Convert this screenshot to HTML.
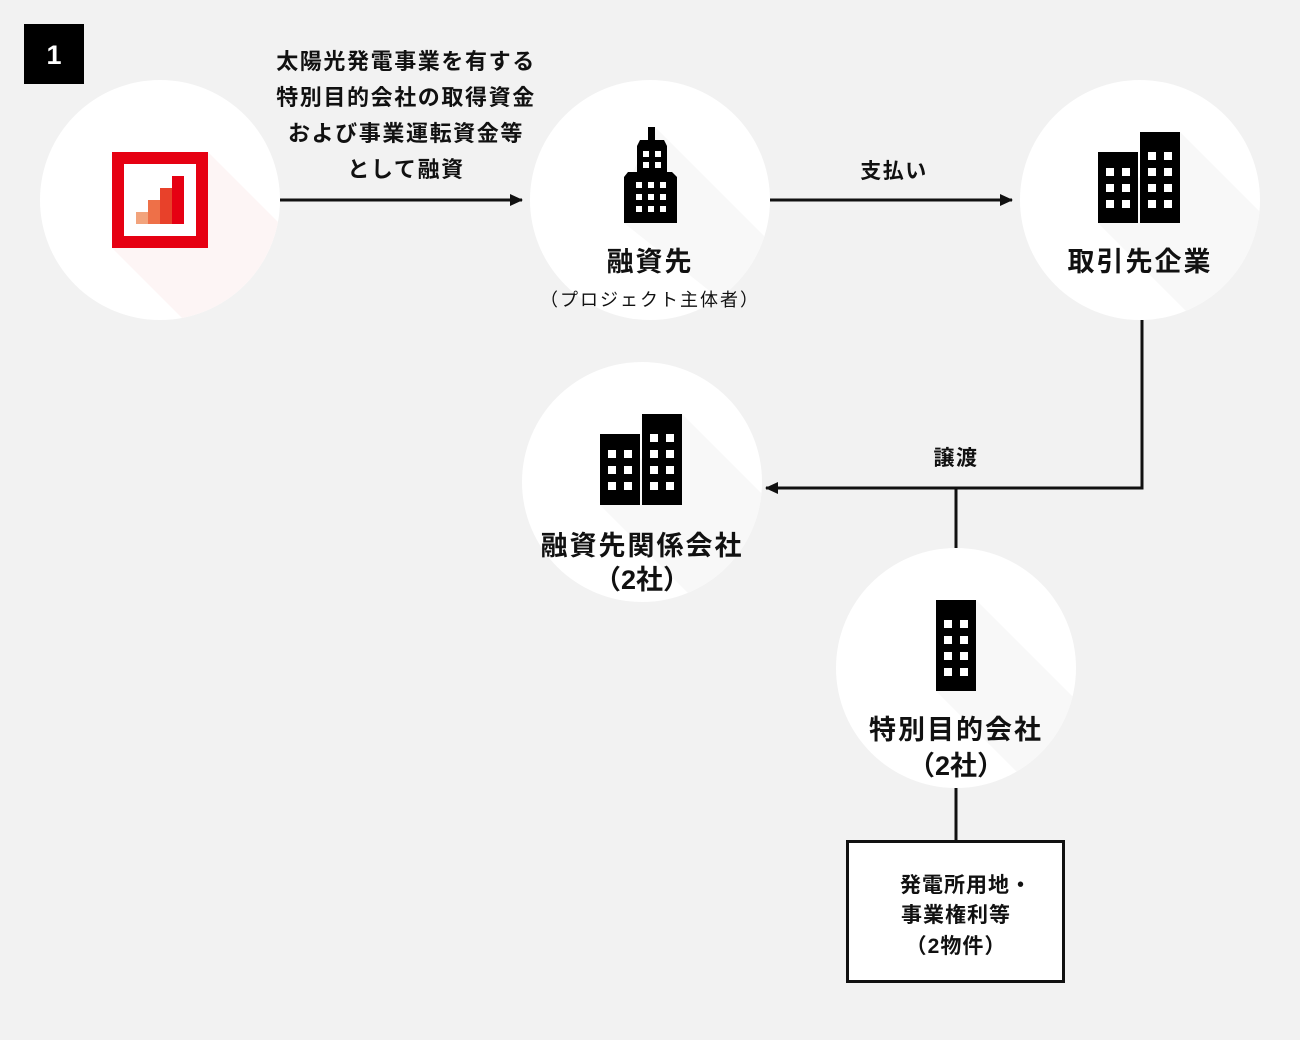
<!DOCTYPE html>
<html><head><meta charset="utf-8"><style>
html,body{margin:0;padding:0;background:#f2f2f2;}
svg{display:block;}
text{font-family:"Liberation Sans","Noto Sans CJK JP",sans-serif;fill:#111;}
</style></head><body>
<svg width="1300" height="1040" viewBox="0 0 1300 1040" xmlns="http://www.w3.org/2000/svg">
<defs>
<clipPath id="c1"><circle cx="160" cy="200" r="120"/></clipPath>
<clipPath id="c2"><circle cx="650" cy="200" r="120"/></clipPath>
<clipPath id="c3"><circle cx="1140" cy="200" r="120"/></clipPath>
<clipPath id="c4"><circle cx="642" cy="482" r="120"/></clipPath>
<clipPath id="c5"><circle cx="956" cy="668" r="120"/></clipPath>
<marker id="ah" markerWidth="13" markerHeight="12" refX="12" refY="6" orient="auto" markerUnits="userSpaceOnUse"><path d="M0,0 L13,6 L0,12 Z" fill="#111"/></marker>
</defs>
<rect x="0" y="0" width="1300" height="1040" fill="#f2f2f2"/>
<rect x="24" y="24" width="60" height="60" fill="#000"/>
<text x="54" y="64" font-size="27" font-weight="bold" text-anchor="middle" style="fill:#fff">1</text>

<circle cx="160" cy="200" r="120" fill="#fff"/>
<polygon clip-path="url(#c1)" points="208,152 408,352 312,448 112,248" fill="#fdf5f5"/>
<circle cx="650" cy="200" r="120" fill="#fff"/>
<polygon clip-path="url(#c2)" points="655,127 876,348 876,423 624,223 624,190" fill="#f8f8f8"/>
<circle cx="1140" cy="200" r="120" fill="#fff"/>
<polygon clip-path="url(#c3)" points="1180,132 1380,332 1298,423 1098,223" fill="#f8f8f8"/>
<circle cx="642" cy="482" r="120" fill="#fff"/>
<polygon clip-path="url(#c4)" points="682,414 882,614 800,705 600,505" fill="#f8f8f8"/>
<circle cx="956" cy="668" r="120" fill="#fff"/>
<polygon clip-path="url(#c5)" points="976,600 1176,800 1136,891 936,691" fill="#f8f8f8"/>

<rect x="112" y="152" width="96" height="96" fill="#e60012"/>
<rect x="124" y="164" width="72" height="72" fill="#fff"/>
<rect x="136" y="212" width="12" height="12" fill="#f2a37c"/>
<rect x="148" y="200" width="12" height="24" fill="#ee7048"/>
<rect x="160" y="188" width="12" height="36" fill="#e8412a"/>
<rect x="172" y="176" width="12" height="48" fill="#e60012"/>

<g fill="#000">
<rect x="648" y="127" width="7" height="14"/>
<path d="M640,140 L664,140 L667,146 L667,172 L637,172 L637,146 Z"/>
<path d="M628,172 L672,172 L677,177 L677,223 L624,223 L624,177 Z"/>
</g>
<g fill="#fff">
<rect x="643" y="151" width="6" height="6"/><rect x="655" y="151" width="6" height="6"/>
<rect x="643" y="162" width="6" height="6"/><rect x="655" y="162" width="6" height="6"/>
<rect x="636" y="182" width="6" height="6"/><rect x="648" y="182" width="6" height="6"/><rect x="660" y="182" width="6" height="6"/>
<rect x="636" y="194" width="6" height="6"/><rect x="648" y="194" width="6" height="6"/><rect x="660" y="194" width="6" height="6"/>
<rect x="636" y="206" width="6" height="6"/><rect x="648" y="206" width="6" height="6"/><rect x="660" y="206" width="6" height="6"/>
</g>

<g transform="translate(1098,132)">
<rect x="0" y="20" width="40" height="71" fill="#000"/><rect x="42" y="0" width="40" height="91" fill="#000"/>
<g fill="#fff">
<rect x="8" y="36" width="8" height="8"/><rect x="24" y="36" width="8" height="8"/>
<rect x="8" y="52" width="8" height="8"/><rect x="24" y="52" width="8" height="8"/>
<rect x="8" y="68" width="8" height="8"/><rect x="24" y="68" width="8" height="8"/>
<rect x="50" y="20" width="8" height="8"/><rect x="66" y="20" width="8" height="8"/>
<rect x="50" y="36" width="8" height="8"/><rect x="66" y="36" width="8" height="8"/>
<rect x="50" y="52" width="8" height="8"/><rect x="66" y="52" width="8" height="8"/>
<rect x="50" y="68" width="8" height="8"/><rect x="66" y="68" width="8" height="8"/>
</g></g>
<g transform="translate(600,414)">
<rect x="0" y="20" width="40" height="71" fill="#000"/><rect x="42" y="0" width="40" height="91" fill="#000"/>
<g fill="#fff">
<rect x="8" y="36" width="8" height="8"/><rect x="24" y="36" width="8" height="8"/>
<rect x="8" y="52" width="8" height="8"/><rect x="24" y="52" width="8" height="8"/>
<rect x="8" y="68" width="8" height="8"/><rect x="24" y="68" width="8" height="8"/>
<rect x="50" y="20" width="8" height="8"/><rect x="66" y="20" width="8" height="8"/>
<rect x="50" y="36" width="8" height="8"/><rect x="66" y="36" width="8" height="8"/>
<rect x="50" y="52" width="8" height="8"/><rect x="66" y="52" width="8" height="8"/>
<rect x="50" y="68" width="8" height="8"/><rect x="66" y="68" width="8" height="8"/>
</g></g>
<g transform="translate(936,600)">
<rect x="0" y="0" width="40" height="91" fill="#000"/>
<g fill="#fff">
<rect x="8" y="20" width="8" height="8"/><rect x="24" y="20" width="8" height="8"/>
<rect x="8" y="36" width="8" height="8"/><rect x="24" y="36" width="8" height="8"/>
<rect x="8" y="52" width="8" height="8"/><rect x="24" y="52" width="8" height="8"/>
<rect x="8" y="68" width="8" height="8"/><rect x="24" y="68" width="8" height="8"/>
</g></g>

<g stroke="#111" stroke-width="3" fill="none">
<line x1="280" y1="200" x2="522" y2="200" marker-end="url(#ah)"/>
<line x1="770" y1="200" x2="1012" y2="200" marker-end="url(#ah)"/>
<polyline points="1142,320 1142,488 766,488" marker-end="url(#ah)"/>
<line x1="956" y1="488" x2="956" y2="548"/>
<line x1="956" y1="788" x2="956" y2="840"/>
</g>
<rect x="847.5" y="841.5" width="216" height="140" fill="#fff" stroke="#111" stroke-width="3"/>

<g font-weight="bold" text-anchor="middle">
<g font-size="22" letter-spacing="1.6">
<text x="406" y="69">太陽光発電事業を有する</text>
<text x="406" y="105">特別目的会社の取得資金</text>
<text x="406" y="141">および事業運転資金等</text>
<text x="406" y="177">として融資</text>
</g>
<text x="894" y="178" font-size="21" letter-spacing="1.5">支払い</text>
<text x="650" y="271" font-size="27" letter-spacing="2">融資先</text>
<text x="1140" y="271" font-size="27" letter-spacing="2">取引先企業</text>
<text x="956" y="465" font-size="21" letter-spacing="1.5">譲渡</text>
<text x="642" y="555" font-size="27" letter-spacing="2">融資先関係会社</text>
<text x="642" y="589" font-size="27" letter-spacing="0">（2社）</text>
<text x="956" y="739" font-size="27" letter-spacing="2">特別目的会社</text>
<text x="956" y="775" font-size="27" letter-spacing="0">（2社）</text>
<g font-size="21" letter-spacing="1">
<text x="966" y="892">発電所用地・</text>
<text x="956" y="922">事業権利等</text>
<text x="956" y="953">（2物件）</text>
</g>
</g>
<text x="650" y="306" font-size="18" letter-spacing="2" text-anchor="middle">（プロジェクト主体者）</text>
</svg>
</body></html>
